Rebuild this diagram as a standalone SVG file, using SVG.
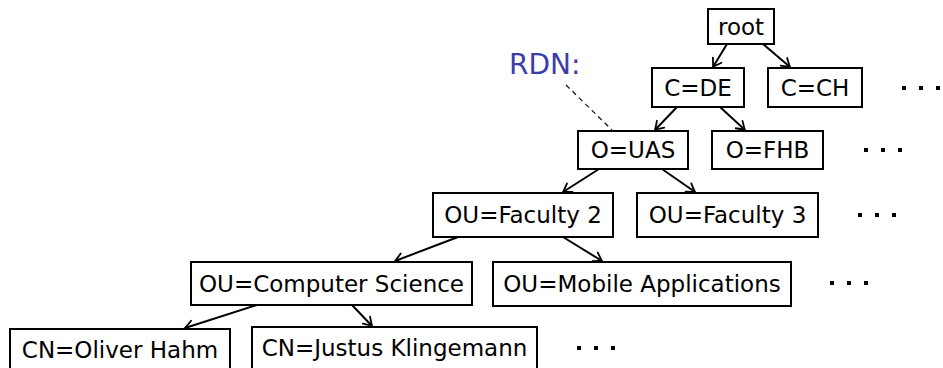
<svg xmlns="http://www.w3.org/2000/svg" width="943" height="368" viewBox="0 0 943 368">
<style>
  .box { fill: #fff; stroke: #000; stroke-width: 2; }
  .lbl { font-family: "DejaVu Sans", "Liberation Sans", sans-serif; font-size: 23px; fill: #000; text-anchor: middle; }
  .edge { stroke: #000; stroke-width: 2; fill: none; marker-end: url(#arr); }
  .dot { fill: #000; }
</style>
<defs>
  <marker id="arr" markerUnits="userSpaceOnUse" viewBox="-11 -7 13 14" refX="0" refY="0" markerWidth="13" markerHeight="14" orient="auto">
    <path d="M-8,-5 Q-2,-1 0,0 Q-2,1 -8,5" fill="none" stroke="#000" stroke-width="1.8" stroke-linecap="round"/>
  </marker>
</defs>
<rect width="943" height="368" fill="#fff"/>
<g id="connectors">
  <line class="edge" x1="727" y1="44" x2="713" y2="67"/>
  <line class="edge" x1="763" y1="44" x2="790" y2="67"/>
  <line class="edge" x1="677" y1="107" x2="655" y2="130"/>
  <line class="edge" x1="720" y1="107" x2="745" y2="130"/>
  <line class="edge" x1="599" y1="169" x2="563" y2="192"/>
  <line class="edge" x1="662" y1="169" x2="695" y2="192"/>
  <line class="edge" x1="458" y1="237" x2="395" y2="261"/>
  <line class="edge" x1="563" y1="237" x2="602" y2="261"/>
  <line class="edge" x1="257" y1="305" x2="185" y2="328"/>
  <line class="edge" x1="352" y1="305" x2="372" y2="326"/>
  <line x1="566" y1="85" x2="612" y2="130" stroke="#111" stroke-width="1.2" stroke-dasharray="5,4"/>
</g>
<g id="rdn">
  <text x="509" y="74" font-family="DejaVu Sans, Liberation Sans, sans-serif" font-size="28" fill="#3c3caa">RDN:</text>
</g>
<g id="root"><rect class="box" x="708" y="9" width="66" height="35"/><text class="lbl" x="741" y="35">root</text></g>
<g id="c-de"><rect class="box" x="652" y="68" width="92" height="39"/><text class="lbl" x="698" y="96">C=DE</text></g>
<g id="c-ch"><rect class="box" x="768" y="68" width="94" height="39"/><text class="lbl" x="815" y="96">C=CH</text></g>
<g id="o-uas"><rect class="box" x="578" y="131" width="110" height="38"/><text class="lbl" x="633" y="158">O=UAS</text></g>
<g id="o-fhb"><rect class="box" x="712" y="131" width="111" height="38"/><text class="lbl" x="767.5" y="158">O=FHB</text></g>
<g id="ou-f2"><rect class="box" x="433" y="193" width="180" height="44"/><text class="lbl" x="523" y="223">OU=Faculty 2</text></g>
<g id="ou-f3"><rect class="box" x="637" y="193" width="181" height="44"/><text class="lbl" x="727.5" y="223">OU=Faculty 3</text></g>
<g id="ou-cs"><rect class="box" x="191" y="262" width="281" height="43"/><text class="lbl" x="331.5" y="292">OU=Computer Science</text></g>
<g id="ou-ma"><rect class="box" x="493" y="262" width="298" height="44"/><text class="lbl" x="642" y="292">OU=Mobile Applications</text></g>
<g id="cn-oh"><rect class="box" x="10" y="329" width="220" height="44"/><text class="lbl" x="120" y="358">CN=Oliver Hahm</text></g>
<g id="cn-jk"><rect class="box" x="252" y="327" width="285" height="46"/><text class="lbl" x="394.5" y="356">CN=Justus Klingemann</text></g>
<g id="dots">
  <rect class="dot" x="902" y="86" width="4" height="4"/><rect class="dot" x="919" y="86" width="4" height="4"/><rect class="dot" x="936" y="86" width="4" height="4"/>
  <rect class="dot" x="864" y="148" width="4" height="4"/><rect class="dot" x="881" y="148" width="4" height="4"/><rect class="dot" x="898" y="148" width="4" height="4"/>
  <rect class="dot" x="858" y="213" width="4" height="4"/><rect class="dot" x="875" y="213" width="4" height="4"/><rect class="dot" x="892" y="213" width="4" height="4"/>
  <rect class="dot" x="830" y="281" width="4" height="4"/><rect class="dot" x="847" y="281" width="4" height="4"/><rect class="dot" x="864" y="281" width="4" height="4"/>
  <rect class="dot" x="577" y="346" width="4" height="4"/><rect class="dot" x="594" y="346" width="4" height="4"/><rect class="dot" x="611" y="346" width="4" height="4"/>
</g>
</svg>
